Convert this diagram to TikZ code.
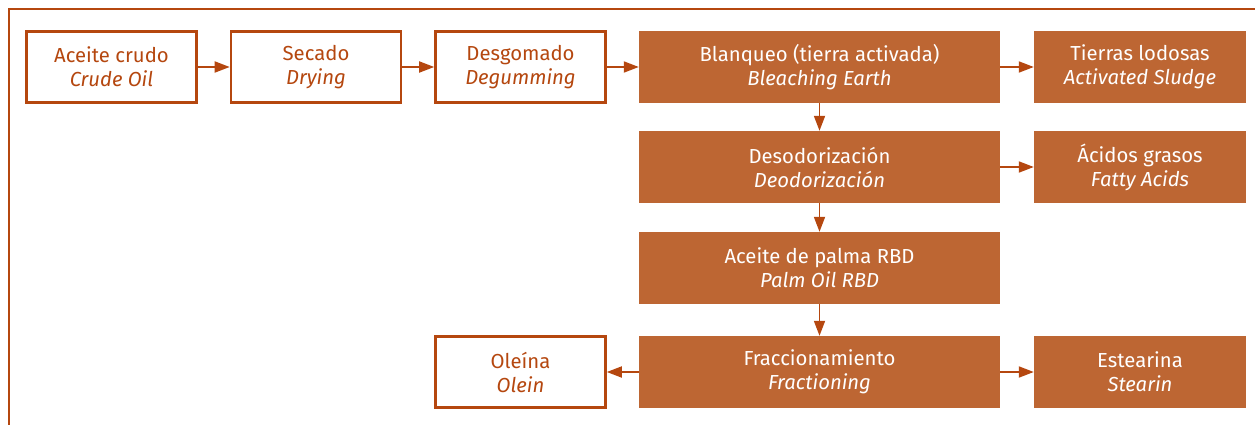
\documentclass[tikz,border=0pt]{standalone}
\usepackage{fontspec}
\setmainfont{Fira Sans}
\usetikzlibrary{arrows.meta}
\definecolor{dk}{HTML}{B5470F}
\definecolor{fl}{HTML}{BD6633}
\begin{document}
\begin{tikzpicture}[x=1pt,y=-1pt,
  outl/.style={draw=dk,line width=2.6pt,text=dk,fill=white,inner sep=0pt,align=center,font=\fontsize{20.3}{24}\selectfont},
  filled/.style={fill=fl,text=white,inner sep=0pt,align=center,font=\fontsize{20.3}{24}\selectfont},
  conn/.style={draw=dk,line width=1.8pt,-{Triangle[length=15pt,width=11pt]}}]
\useasboundingbox (0,0) rectangle (1255,425);
\draw[dk,line width=2.6pt] (9,425) -- (9,9) -- (1255,9);
\newcommand{\bx}[7]{\node[#1,minimum width=#4 pt,minimum height=#5 pt] (#2) at (#3) {#6\\\textit{#7}};}
\bx{outl}{crude}{111.5,67}{170}{71}{Aceite crudo}{Crude Oil}
\bx{outl}{dry}{316,67}{170}{71}{Secado}{Drying}
\bx{outl}{deg}{520.5,67}{170}{71}{Desgomado}{Degumming}
\bx{filled}{ble}{819.5,67}{361}{72}{Blanqueo (tierra activada)}{Bleaching Earth}
\bx{filled}{sludge}{1140,67}{212}{72}{Tierras lodosas}{Activated Sludge}
\bx{filled}{deo}{819.5,167}{361}{72}{Desodorización}{Deodorización}
\bx{filled}{fat}{1140,167}{212}{72}{Ácidos grasos}{Fatty Acids}
\bx{filled}{rbd}{819.5,268}{361}{72}{Aceite de palma RBD}{Palm Oil RBD}
\bx{filled}{frac}{819.5,372}{361}{72}{Fraccionamiento}{Fractioning}
\bx{outl}{ole}{520.5,372}{170}{71}{Oleína}{Olein}
\bx{filled}{ste}{1140,372}{212}{72}{Estearina}{Stearin}
\draw[conn] (crude) -- (dry);
\draw[conn] (dry) -- (deg);
\draw[conn] (deg) -- (ble);
\draw[conn] (ble) -- (sludge);
\draw[conn] (ble) -- (deo);
\draw[conn] (deo) -- (fat);
\draw[conn] (deo) -- (rbd);
\draw[conn] (rbd) -- (frac);
\draw[conn] (frac) -- (ole);
\draw[conn] (frac) -- (ste);
\end{tikzpicture}
\end{document}
